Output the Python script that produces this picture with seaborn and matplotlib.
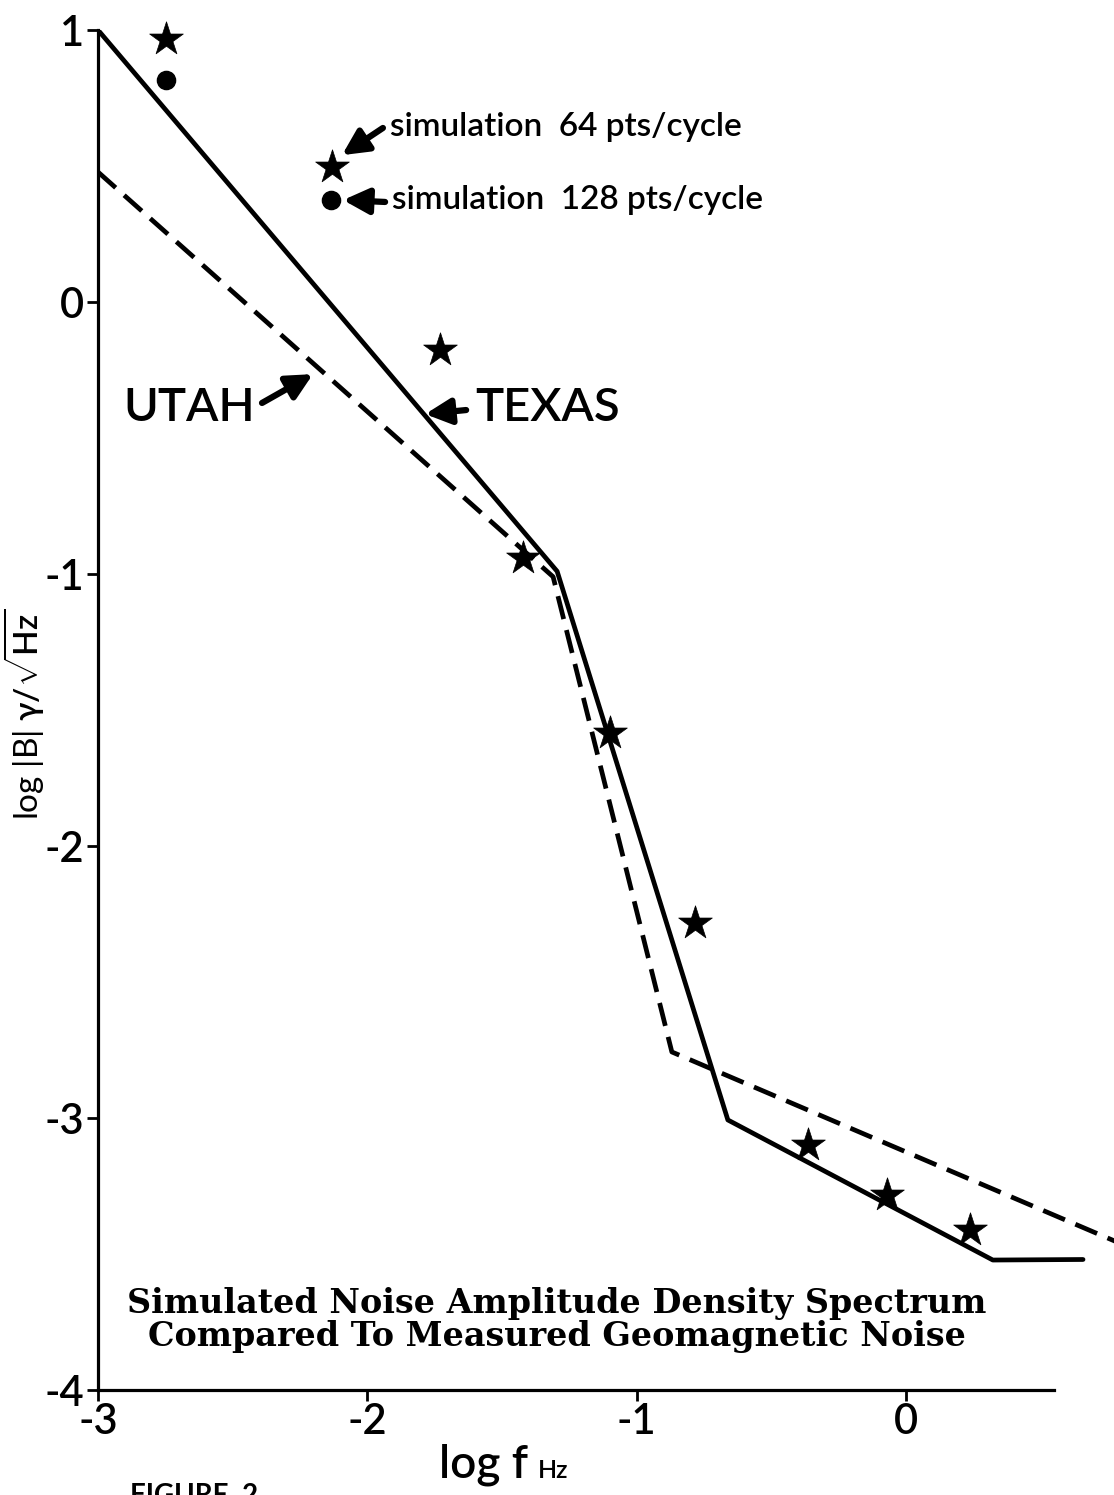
import numpy as np
import pandas as pd
import matplotlib
matplotlib.use('Agg')
import matplotlib.pyplot as plt
import seaborn as sns

# 데이터
texas_x = [-3.0, -1.295, -0.661, 0.323, 0.658]
texas_y = [1.0, -0.99, -3.007, -3.522, -3.52]
utah_x = [-3.0, -1.31, -0.869, 0.78]
utah_y = [0.478, -1.01, -2.757, -3.454]
sim64_x = [-2.747, -2.131, -1.730, -1.422, -1.099, -0.783, -0.364, -0.070, 0.238]
sim64_y = [0.967, 0.496, -0.176, -0.941, -1.585, -2.283, -3.099, -3.283, -3.412]
sim128_x = [-2.747, -2.135]
sim128_y = [0.816, 0.375]
x_ticks = [-3, -2, -1, 0]
y_ticks = [1, 0, -1, -2, -3, -4]

sns.set_style('ticks')
plt.rcParams['font.family'] = ['Lato', 'DejaVu Sans']
plt.rcParams['font.weight'] = 'semibold'
plt.rcParams['text.color'] = 'black'
plt.rcParams['axes.labelcolor'] = 'black'
plt.rcParams['xtick.color'] = 'black'
plt.rcParams['ytick.color'] = 'black'
plt.rcParams['axes.edgecolor'] = 'black'
plt.rcParams['mathtext.fontset'] = 'custom'
plt.rcParams['mathtext.rm'] = 'Lato:semibold'
plt.rcParams['mathtext.it'] = 'Lato:semibold'

fig = plt.figure(figsize=(11.14, 14.95), dpi=100)
ax = fig.add_axes([0.088, 0.0702, 0.912, 0.9097])

texas = pd.DataFrame({'x': texas_x, 'y': texas_y})
utah = pd.DataFrame({'x': utah_x, 'y': utah_y})
sim64 = pd.DataFrame({'x': sim64_x, 'y': sim64_y})
sim128 = pd.DataFrame({'x': sim128_x, 'y': sim128_y})

sns.lineplot(data=texas, x='x', y='y', sort=False, estimator=None,
             color='black', lw=3.4, ax=ax)
sns.lineplot(data=utah, x='x', y='y', sort=False, estimator=None,
             color='black', lw=3.4, ax=ax)
ax.lines[-1].set_dashes([5, 2.4])
sns.scatterplot(data=sim64, x='x', y='y', marker='*', s=650, color='black',
                edgecolor='black', linewidth=0.5, ax=ax, clip_on=False, zorder=5)
sns.scatterplot(data=sim128, x='x', y='y', marker='o', s=170, color='black',
                edgecolor='black', ax=ax, clip_on=False, zorder=5)

ax.set_xlim(-3, 0.773)
ax.set_ylim(-4, 1)
ax.set_xticks(x_ticks)
ax.set_yticks(y_ticks)
ax.set_xticklabels([str(t) for t in x_ticks])
ax.set_yticklabels([str(t) for t in y_ticks])
ax.tick_params(axis='both', direction='out', length=8, width=2, labelsize=30, pad=2)
ax.tick_params(axis='x', pad=1)

sns.despine(ax=ax)
ax.spines['left'].set_linewidth(2.3)
ax.spines['bottom'].set_linewidth(2.3)
ax.spines['bottom'].set_bounds(-3, 0.55)

ax.set_xlabel('')
ax.set_ylabel(r'log |B| $\gamma/\sqrt{\mathrm{Hz}}$', fontsize=24)
ax.yaxis.set_label_coords(-0.051, 0.497)

# x 축 라벨
t1 = fig.text(439 / 1114, 1 - 1478 / 1495, 'log f', fontsize=33, ha='left', va='baseline')
ax.annotate('Hz', xy=(1, 0), xycoords=t1, xytext=(7, 3), textcoords='offset points',
            fontsize=18, ha='left', va='bottom', annotation_clip=False)
fig.text(130 / 1114, 1 - 1504 / 1495, 'FIGURE  2', fontsize=20, fontweight='bold',
         ha='left', va='baseline')

arrow = dict(arrowstyle='-|>,head_length=0.7,head_width=0.35', color='black',
             lw=4.5, shrinkA=0, shrinkB=0, mutation_scale=22)

ax.annotate('', xy=(-2.094, 0.540), xytext=(-1.942, 0.640), arrowprops=arrow)
ax.annotate('', xy=(-2.090, 0.375), xytext=(-1.934, 0.368), arrowprops=arrow)
ax.annotate('', xy=(-2.202, -0.265), xytext=(-2.391, -0.371), arrowprops=arrow)
ax.annotate('', xy=(-1.785, -0.412), xytext=(-1.633, -0.397), arrowprops=arrow)

ax.text(-1.916, 0.643, 'simulation  64 pts/cycle', fontsize=24, ha='left', va='center')
ax.text(-1.908, 0.375, 'simulation  128 pts/cycle', fontsize=24, ha='left', va='center')
ax.text(-2.417, -0.39, 'UTAH', fontsize=34, ha='right', va='center')
ax.text(-1.60, -0.39, 'TEXAS', fontsize=34, ha='left', va='center')

ax.text(-1.296, -3.743, 'Simulated Noise Amplitude Density Spectrum\n'
        'Compared To Measured Geomagnetic Noise',
        family='DejaVu Serif', fontweight='bold', fontsize=24, ha='center',
        va='center', linespacing=1.0)

plt.savefig('out.png', dpi=100)
